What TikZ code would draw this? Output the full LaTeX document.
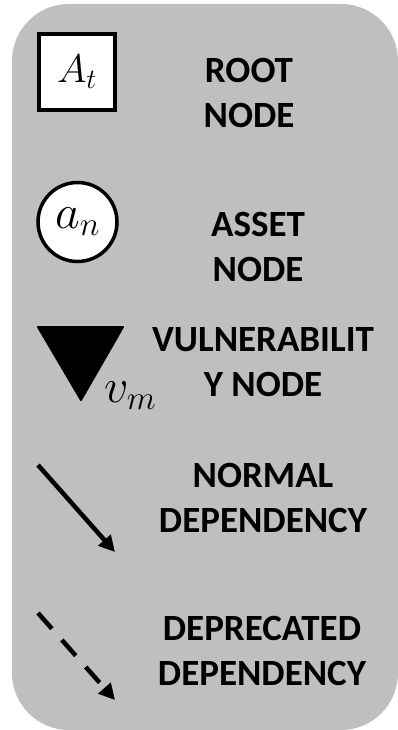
\RequirePackage{fix-cm}
\documentclass[tikz,border=0pt]{standalone}
\usepackage{fontspec}
\setmainfont{Carlito}
\usetikzlibrary{arrows.meta}
\definecolor{panel}{HTML}{BFBFBF}
\tikzset{
  legendlabel/.style={align=center, anchor=base, inner sep=0pt,
    font=\bfseries\fontsize{37}{45}\selectfont},
  dep/.style={line width=4.5pt, -{Triangle[length=16pt,width=16pt]}},
}
\begin{document}
\begin{tikzpicture}[x=1pt, y=-1pt]
  \useasboundingbox (0,0) rectangle (398,730);
  % legend panel
  \fill[panel, rounded corners=57pt] (12,4) rectangle (398,730);

  % root node symbol
  \node[draw, fill=white, line width=4pt, minimum size=76pt, inner sep=0pt]
    (root) at (77,72) {\fontsize{40}{40}\selectfont$A_t$};
  \node[legendlabel] (rootlbl) at (249,128) {ROOT\\NODE};

  % asset node symbol
  \node[draw, fill=white, circle, line width=3.5pt, minimum size=79pt, inner sep=0pt]
    (asset) at (77.5,222) {\fontsize{48}{48}\selectfont$a_n$};
  \node[legendlabel] (assetlbl) at (258,281) {ASSET\\NODE};

  % vulnerability node symbol
  \coordinate (tl) at (38,327);
  \coordinate (tr) at (123,327);
  \coordinate (bt) at (81,400);
  \fill[black, draw=black, line width=2pt, line join=round] (tl) -- (tr) -- (bt) -- cycle;
  \node[anchor=base west, inner sep=0pt] (vuln) at (104,402) {\fontsize{48}{48}\selectfont$v_m$};
  \node[legendlabel] (vulnlbl) at (263,396) {VULNERABILIT\\Y NODE};

  % normal dependency
  \coordinate (n1) at (38,465);
  \coordinate (n2) at (115,552);
  \draw[dep] (n1) -- (n2);
  \node[legendlabel] (normlbl) at (263,532) {NORMAL\\DEPENDENCY};

  % deprecated dependency
  \coordinate (d1) at (38,613);
  \coordinate (d2) at (115,700);
  \draw[dep, dash pattern=on 21pt off 15pt] (d1) -- (d2);
  \node[legendlabel] (deplbl) at (262,685) {DEPRECATED\\DEPENDENCY};
\end{tikzpicture}
\end{document}
